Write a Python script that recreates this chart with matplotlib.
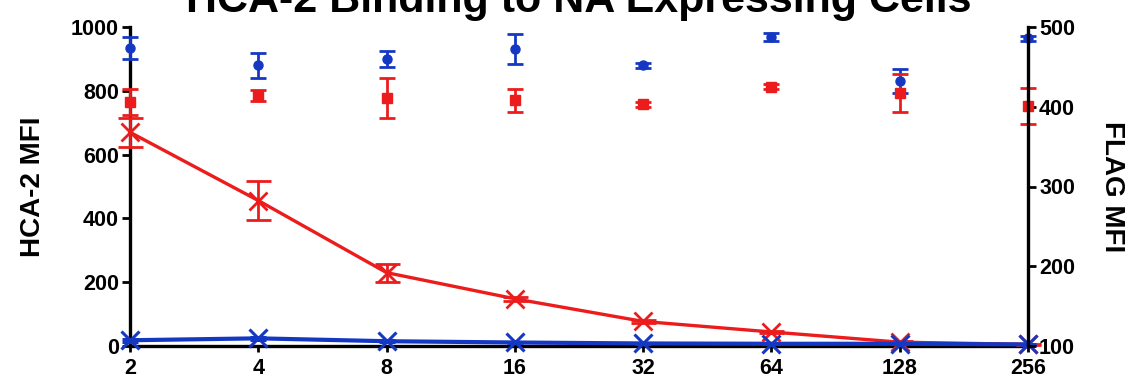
import matplotlib
matplotlib.use('Agg')
import matplotlib.pyplot as plt

# Dilution (x) values
dilutions = [2, 4, 8, 16, 32, 64, 128, 256]

# HCA-2 MFI (left axis), lines with X markers
hca_red = [670, 456, 230, 148, 77, 44, 12, 5]
hca_red_err = [45, 60, 28, 6, 4, 3, 3, 2]
hca_blue = [18, 24, 15, 11, 8, 7, 7, 5]
hca_blue_err = [4, 4, 3, 2, 2, 2, 2, 1]

# FLAG MFI (right axis), points only
flag_blue = [474, 452, 460, 472, 452, 487, 432, 486]
flag_blue_err = [14, 16, 10, 19, 3, 5, 15, 3]
flag_red = [406, 414, 411, 408, 403, 425, 417, 401]
flag_red_err = [16, 7, 25, 14, 3, 3, 24, 23]

RED = '#ec1c1c'
BLUE = '#1538c4'

plt.rcParams['font.family'] = ['Liberation Sans', 'DejaVu Sans']
plt.rcParams['font.weight'] = 'bold'

fig = plt.figure(figsize=(11.31, 3.8), dpi=100)
ax = fig.add_axes([130 / 1131, 34 / 380, 898 / 1131, 319 / 380])
ax2 = ax.twinx()

# HCA-2 binding curves
ax.errorbar(dilutions, hca_red, yerr=hca_red_err, color=RED, marker='x',
            markersize=13, mew=2, lw=2.4, capsize=9, elinewidth=2, capthick=2,
            clip_on=False, zorder=3)
ax.errorbar(dilutions, hca_blue, yerr=hca_blue_err, color=BLUE, marker='x',
            markersize=13, mew=2.2, lw=3, capsize=6, elinewidth=2, capthick=2,
            clip_on=False, zorder=4)

# FLAG expression points
ax2.errorbar(dilutions, flag_blue, yerr=flag_blue_err, color=BLUE, marker='o',
             markersize=6.5, linestyle='none', capsize=6, elinewidth=2, capthick=2,
             clip_on=False)
ax2.errorbar(dilutions, flag_red, yerr=flag_red_err, color=RED, marker='s',
             markersize=6.5, linestyle='none', capsize=6, elinewidth=2, capthick=2,
             clip_on=False)

ax.set_xscale('log', base=2)
ax.set_xlim(2, 256)
ax.set_xticks(dilutions)
ax.set_xticklabels([str(d) for d in dilutions])
ax.minorticks_off()
ax.set_ylim(0, 1000)
ax.set_yticks([0, 200, 400, 600, 800, 1000])
ax2.set_ylim(100, 500)
ax2.set_yticks([100, 200, 300, 400, 500])

ax.spines['top'].set_visible(False)
ax2.spines['top'].set_visible(False)
ax.spines['right'].set_visible(False)
ax2.spines['left'].set_visible(False)
ax2.spines['bottom'].set_visible(False)
for s in ['left', 'bottom']:
    ax.spines[s].set_linewidth(2.4)
ax2.spines['right'].set_linewidth(2.4)

ax.tick_params(axis='y', direction='out', length=6, width=2, labelsize=15.5, pad=2)
ax.tick_params(axis='x', direction='out', length=4, width=2, labelsize=15.5, pad=5)
ax2.tick_params(axis='y', direction='out', length=6, width=2, labelsize=15.5, pad=2)

ax.set_ylabel('HCA-2 MFI', fontsize=20, fontweight='bold', labelpad=18)
ax2.set_ylabel('FLAG MFI', fontsize=20, fontweight='bold', rotation=270, labelpad=36)

fig.text(0.512, 0.968, 'HCA-2 Binding to NA Expressing Cells', ha='center',
         va='baseline', fontsize=31, fontweight='bold')

fig.savefig('out.png', dpi=100)
